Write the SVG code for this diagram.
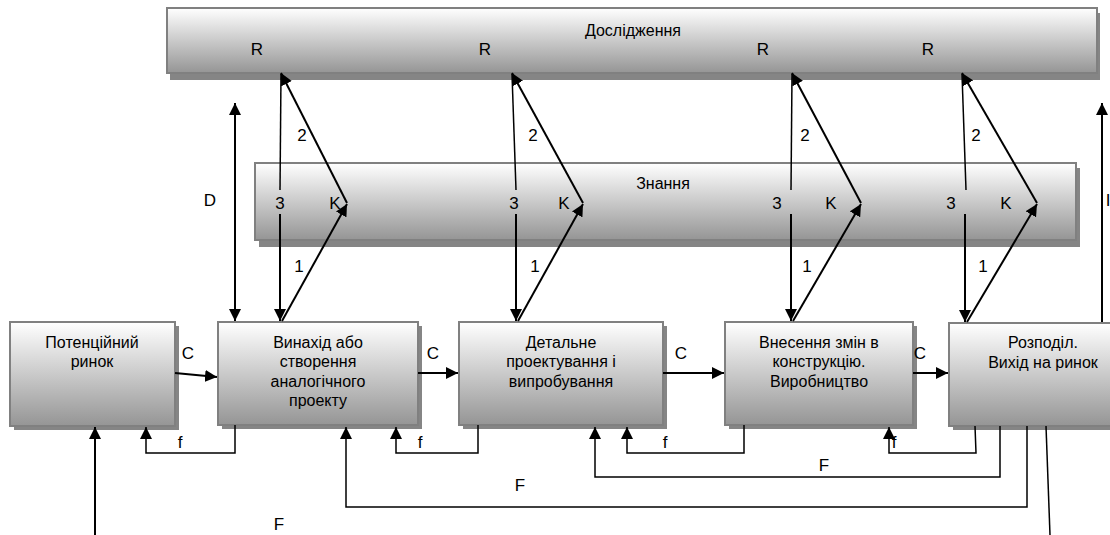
<svg xmlns="http://www.w3.org/2000/svg" width="1110" height="535" viewBox="0 0 1110 535">
<defs>
<linearGradient id="g" x1="0" y1="0" x2="0" y2="1">
<stop offset="0" stop-color="#ffffff"/>
<stop offset="1" stop-color="#959595"/>
</linearGradient>
<marker id="a" viewBox="0 0 12 12" refX="12" refY="6" markerWidth="12" markerHeight="12" markerUnits="userSpaceOnUse" orient="auto">
<path d="M0,0 L12,6 L0,12 z" fill="#000"/>
</marker>
<marker id="as" viewBox="0 0 12 12" refX="0" refY="6" markerWidth="12" markerHeight="12" markerUnits="userSpaceOnUse" orient="auto">
<path d="M12,0 L0,6 L12,12 z" fill="#000"/>
</marker>
</defs>
<style>
.sh{fill:#858585}
.bx{fill:url(#g);stroke:#808080;stroke-width:2}
.t{font-family:"Liberation Sans",Arial,sans-serif;font-size:16px;fill:#000;text-anchor:middle}
.l{font-family:"Liberation Sans",Arial,sans-serif;font-size:17px;fill:#000;text-anchor:middle}
.c{fill:none;stroke:#000;stroke-width:2}
.c2{fill:none;stroke:#000;stroke-width:1.5}
</style>

<g id="research">
<rect class="sh" x="170" y="13" width="930" height="67"/>
<rect class="bx" x="167" y="8" width="930" height="65"/>
<text class="t" x="633" y="36">Дослідження</text>
<text class="l" x="257" y="55">R</text>
<text class="l" x="485" y="55">R</text>
<text class="l" x="763" y="55">R</text>
<text class="l" x="928" y="55">R</text>
</g>

<g id="knowledge">
<rect class="sh" x="259" y="168" width="821" height="79"/>
<rect class="bx" x="255" y="163" width="821" height="77"/>
<text class="t" x="663" y="189">Знання</text>
<text class="l" x="280" y="209">3</text>
<text class="l" x="335" y="209">K</text>
<text class="l" x="514" y="209">3</text>
<text class="l" x="564" y="209">K</text>
<text class="l" x="777" y="209">3</text>
<text class="l" x="831" y="209">K</text>
<text class="l" x="951" y="209">3</text>
<text class="l" x="1006" y="209">K</text>
</g>

<g id="market">
<rect class="sh" x="14" y="326" width="165" height="104"/>
<rect class="bx" x="10" y="322" width="165" height="104"/>
<text class="t" x="92" y="347.5">Потенційний</text>
<text class="t" x="92" y="367">ринок</text>
</g>

<g id="invention">
<rect class="sh" x="222" y="326" width="200" height="103"/>
<rect class="bx" x="218" y="322" width="200" height="103"/>
<text class="t" x="318" y="347.5">Винахід або</text>
<text class="t" x="318" y="367">створення</text>
<text class="t" x="318" y="386.5">аналогічного</text>
<text class="t" x="318" y="406">проекту</text>
</g>

<g id="design">
<rect class="sh" x="463" y="326" width="204" height="103"/>
<rect class="bx" x="459" y="322" width="204" height="103"/>
<text class="t" x="561" y="347.5">Детальне</text>
<text class="t" x="561" y="367">проектування і</text>
<text class="t" x="561" y="386.5">випробування</text>
</g>

<g id="production">
<rect class="sh" x="729" y="326" width="188" height="103"/>
<rect class="bx" x="725" y="322" width="188" height="103"/>
<text class="t" x="819" y="347.5">Внесення змін в</text>
<text class="t" x="819" y="367">конструкцію.</text>
<text class="t" x="819" y="386.5">Виробництво</text>
</g>

<g id="distribution">
<rect class="sh" x="953" y="327" width="170" height="103"/>
<rect class="bx" x="949" y="323" width="170" height="103"/>
<text class="t" x="1043" y="347.5">Розподіл.</text>
<text class="t" x="1043" y="368">Вихід на ринок</text>
</g>

<g id="connectors">
<line class="c" x1="235" y1="103" x2="235" y2="321" marker-start="url(#as)" marker-end="url(#a)"/>
<text class="l" x="210" y="206">D</text>
<line class="c" x1="1102" y1="322" x2="1102" y2="103" marker-end="url(#a)"/>
<text class="l" x="1108" y="206">I</text>

<line class="c2" x1="280" y1="190" x2="281" y2="74"/>
<line class="c" x1="347" y1="203" x2="281" y2="73" marker-end="url(#a)"/>
<line class="c" x1="280" y1="214" x2="280" y2="321" marker-end="url(#a)"/>
<line class="c" x1="282" y1="321" x2="347" y2="204" marker-end="url(#a)"/>
<text class="l" x="302" y="141">2</text>
<text class="l" x="299" y="272">1</text>

<line class="c2" x1="516" y1="190" x2="512" y2="74"/>
<line class="c" x1="583" y1="203" x2="512" y2="73" marker-end="url(#a)"/>
<line class="c" x1="516" y1="214" x2="516" y2="321" marker-end="url(#a)"/>
<line class="c" x1="518" y1="321" x2="583" y2="204" marker-end="url(#a)"/>
<text class="l" x="533" y="141">2</text>
<text class="l" x="535" y="272">1</text>

<line class="c2" x1="791" y1="190" x2="792" y2="74"/>
<line class="c" x1="861" y1="203" x2="792" y2="73" marker-end="url(#a)"/>
<line class="c" x1="791" y1="214" x2="791" y2="321" marker-end="url(#a)"/>
<line class="c" x1="793" y1="321" x2="861" y2="204" marker-end="url(#a)"/>
<text class="l" x="805" y="141">2</text>
<text class="l" x="807" y="272">1</text>

<line class="c2" x1="966" y1="190" x2="962" y2="74"/>
<line class="c" x1="1037" y1="203" x2="962" y2="73" marker-end="url(#a)"/>
<line class="c" x1="965" y1="214" x2="965" y2="322" marker-end="url(#a)"/>
<line class="c" x1="967" y1="322" x2="1037" y2="204" marker-end="url(#a)"/>
<text class="l" x="976" y="141">2</text>
<text class="l" x="983" y="272">1</text>

<line class="c" x1="175" y1="373" x2="217" y2="377" marker-end="url(#a)"/>
<text class="l" x="188" y="359">C</text>
<line class="c" x1="418" y1="373" x2="458" y2="373" marker-end="url(#a)"/>
<text class="l" x="433" y="359">C</text>
<line class="c" x1="663" y1="373" x2="724" y2="373" marker-end="url(#a)"/>
<text class="l" x="681" y="359">C</text>
<line class="c" x1="913" y1="373" x2="948" y2="373" marker-end="url(#a)"/>
<text class="l" x="920" y="359">C</text>

<polyline class="c2" points="235,425 235,453 146,453 146,427" marker-end="url(#a)"/>
<text class="l" x="180" y="448">f</text>
<polyline class="c2" points="478,425 478,453 396,453 396,427" marker-end="url(#a)"/>
<text class="l" x="420" y="448">f</text>
<polyline class="c2" points="744,425 744,453 627,453 627,427" marker-end="url(#a)"/>
<text class="l" x="665" y="448">f</text>
<polyline class="c2" points="975,426 976,453 889,453 889,427" marker-end="url(#a)"/>
<text class="l" x="894" y="448">f</text>

<polyline class="c2" points="1000,426 1000,477 595,477 595,427" marker-end="url(#a)"/>
<text class="l" x="824" y="471">F</text>
<polyline class="c2" points="1027,426 1027,507 346,507 346,427" marker-end="url(#a)"/>
<text class="l" x="520" y="491">F</text>
<line class="c2" x1="1046" y1="426" x2="1050" y2="535"/>
<line class="c" x1="95" y1="535" x2="95" y2="427" marker-end="url(#a)"/>
<text class="l" x="279" y="530">F</text>
</g>
</svg>
